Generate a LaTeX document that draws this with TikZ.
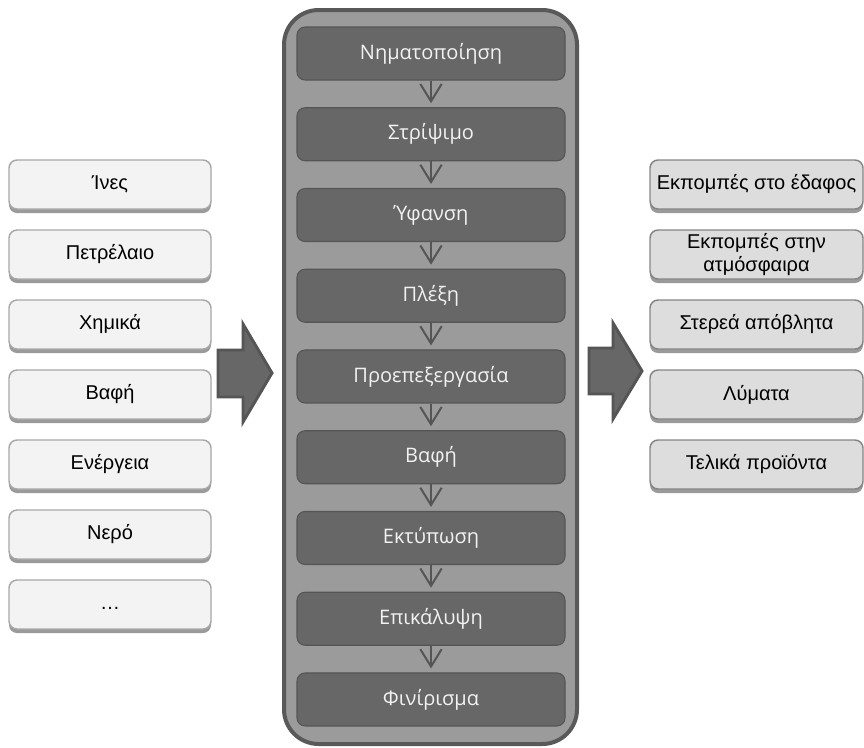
\documentclass[tikz,border=0pt]{standalone}
\usepackage{fontspec}
\setmainfont{Liberation Sans}
\newfontfamily\stepfont{Open Sans}
\usetikzlibrary{arrows.meta,shadows}

\definecolor{outerfill}{HTML}{9B9B9B}
\definecolor{outerline}{HTML}{595959}
\definecolor{stepfill}{HTML}{676767}
\definecolor{stepline}{HTML}{555555}
\definecolor{infill}{HTML}{F3F3F3}
\definecolor{inedge}{HTML}{A8A8A8}
\definecolor{outfill}{HTML}{DDDDDD}
\definecolor{outedge}{HTML}{858585}
\definecolor{shade}{HTML}{9A9A9A}

\tikzset{
  stepbox/.style={rectangle, rounded corners=6pt, draw=stepline, line width=0.8pt,
    fill=stepfill, text=white!95!black, minimum width=201pt, minimum height=39.75pt,
    node distance=60.56pt, font=\stepfont\fontsize{15}{18}\selectfont},
  inbox/.style={rectangle, rounded corners=6pt, draw=inedge, line width=1.1pt,
    fill=infill, minimum width=151.5pt, minimum height=36.75pt, inner sep=2pt,
    node distance=52.5pt, font=\fontsize{15}{17}\selectfont,
    drop shadow={shadow xshift=0pt, shadow yshift=-3pt, fill=shade, opacity=1}},
  outbox/.style={inbox, draw=outedge, fill=outfill, minimum width=159.75pt, align=center},
  flowarrow/.style={draw=stepline, line width=1.5pt, shorten >=3pt,
    -{Straight Barb[length=13pt, width=16pt, line width=1.5pt]}},
  bigarrow/.style={fill=stepfill, draw=stepline, line width=2.2pt, line join=miter}
}

\begin{document}
\begin{tikzpicture}[x=0.75pt, y=-0.75pt]
    \useasboundingbox (0,0) rectangle (864,747);

    % process column
    \draw [line width=3pt, draw=outerline, fill=outerfill, rounded corners=26pt] (284,10) rectangle (577,744);
    \node [stepbox] (s1) at (431,53.5) {Νηματοποίηση};
    \node [stepbox, below of=s1] (s2) {Στρίψιμο};
    \node [stepbox, below of=s2] (s3) {Ύφανση};
    \node [stepbox, below of=s3] (s4) {Πλέξη};
    \node [stepbox, below of=s4] (s5) {Προεπεξεργασία};
    \node [stepbox, below of=s5] (s6) {Βαφή};
    \node [stepbox, below of=s6] (s7) {Εκτύπωση};
    \node [stepbox, below of=s7] (s8) {Επικάλυψη};
    \node [stepbox, below of=s8] (s9) {Φινίρισμα};

    \foreach \a/\b in {s1/s2, s2/s3, s3/s4, s4/s5, s5/s6, s6/s7, s7/s8, s8/s9}
        \path [flowarrow] (\a) -- (\b);

    % inputs
    \node [inbox] (i1) at (110,184.5) {Ίνες};
    \node [inbox, below of=i1] (i2) {Πετρέλαιο};
    \node [inbox, below of=i2] (i3) {Χημικά};
    \node [inbox, below of=i3] (i4) {Βαφή};
    \node [inbox, below of=i4] (i5) {Ενέργεια};
    \node [inbox, below of=i5] (i6) {Νερό};
    \node [inbox, below of=i6] (i7) {\strut\dots};

    % outputs
    \node [outbox] (o1) at (756.5,184.5) {Εκπομπές στο έδαφος};
    \node [outbox, below of=o1] (o2) {Εκπομπές στην\\ατμόσφαιρα};
    \node [outbox, below of=o2] (o3) {Στερεά απόβλητα};
    \node [outbox, below of=o3] (o4) {Λύματα};
    \node [outbox, below of=o4] (o5) {Τελικά προϊόντα};

    % block arrows
    \draw [bigarrow] (218,350) -- (243,350) -- (243,324) -- (272,373) -- (243,422) -- (243,397) -- (218,397) -- cycle;
    \draw [bigarrow] (589,348) -- (613,348) -- (613,323) -- (642,371) -- (613,419) -- (613,394) -- (589,394) -- cycle;
\end{tikzpicture}
\end{document}
